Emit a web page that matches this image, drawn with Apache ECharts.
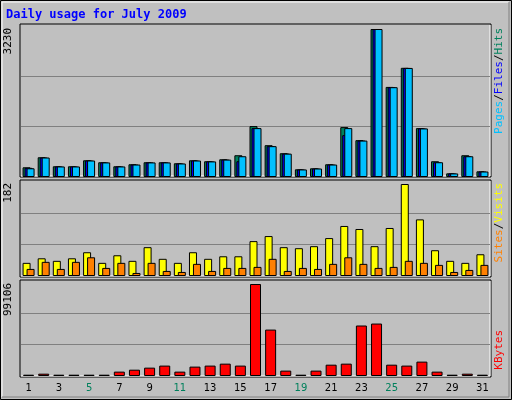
<!DOCTYPE html>
<html><head><meta charset="utf-8">
<script src="https://cdn.jsdelivr.net/npm/echarts@6/dist/echarts.min.js"></script>
<style>html,body{margin:0;padding:0;background:#c0c0c0}#c{width:512px;height:400px}</style>
</head><body><div id="c"></div>
<script>
const days = ['1','2','3','4','5','6','7','8','9','10','11','12','13','14','15','16','17','18','19','20','21','22','23','24','25','26','27','28','29','30','31'];
const weekends = ['4','5','11','12','18','19','25','26'];
const hits  = [212,431,234,234,365,322,234,278,322,322,300,365,344,387,475,1111,694,519,168,190,278,1089,804,3230,1966,2383,1067,344,80,475,124];
const files = [200,425,230,230,360,318,230,272,318,318,295,360,340,380,344,1067,673,510,165,185,272,914,795,3230,1960,2380,1060,322,78,453,120];
const pages = [190,425,230,230,360,318,230,272,318,318,295,360,340,380,453,1067,673,510,165,185,272,1067,795,3230,1960,2380,1060,322,78,453,120];
const visits = [26,35,30,35,47,26,41,30,57,34,26,47,34,39,39,69,79,57,55,59,75,99,93,59,95,182,112,51,30,26,43];
const sites  = [14,28,14,28,37,16,26,6,26,10,8,24,10,16,16,18,34,10,16,14,24,37,24,16,18,30,26,22,8,12,22];
const kbytes = [1400,2500,1400,1400,1400,1400,4700,6800,9000,11200,4700,10100,11200,13300,11200,99106,50000,5800,1400,5800,12200,13300,54400,56500,12200,11200,15500,4700,1400,2500,1400];
const maxLabels = ['3230','182','99106'];
const maxVals = [3230,182,99106];

const F = 'DejaVu Sans Mono';
const grids = [
  {left:21,right:22,top:29,bottom:223},
  {left:21,right:22,top:184,bottom:124},
  {left:21,right:22,top:284,bottom:24}
];
function xa(i){return {type:'category',gridIndex:i,data:days,axisLine:{show:false},axisTick:{show:false},
  axisLabel:{show:i===2,fontFamily:'DejaVu Sans',fontSize:10,color:(v)=>weekends.includes(v)?'#00805c':'#000',margin:7}};}
function ya(i){return {type:'value',gridIndex:i,min:0,max:maxVals[i],interval:maxVals[i]*0.34,
  axisLabel:{show:false},axisLine:{show:false},axisTick:{show:false},
  splitLine:{show:true,showMinLine:false,showMaxLine:false,lineStyle:{color:'#808080',width:1}}};}
const bs = {borderColor:'#000',borderWidth:1};
function bar(name,data,i,color,w,gap){return {type:'bar',name,data,xAxisIndex:i,yAxisIndex:i,barWidth:w,barGap:gap,
  itemStyle:Object.assign({color},bs),animation:false,silent:true};}

function panel(y,h){return [
  {type:'rect',shape:{x:20,y:y,width:471,height:h},style:{fill:'#c0c0c0',stroke:'#000',lineWidth:1},z:-10},
  {type:'polyline',shape:{points:[[21,y+h-1],[490,y+h-1],[490,y+1]]},style:{stroke:'#fff',lineWidth:1,fill:null},z:-9}
];}
function rot(text,x,y,rich){return {type:'text',x,y,rotation:Math.PI/2,style:{text,rich,font:'11px '+F,align:'right',verticalAlign:'middle'}};}

const chart = echarts.init(document.getElementById('c'),null,{renderer:'canvas'});
chart.setOption({
  backgroundColor:'#c0c0c0',
  animation:false,
  grid:grids,
  xAxis:[xa(0),xa(1),xa(2)],
  yAxis:[ya(0),ya(1),ya(2)],
  series:[
    bar('Hits',hits,0,'#00805c',8,'-75%'),
    bar('Files',files,0,'#0000ff',8,'-75%'),
    bar('Pages',pages,0,'#00c0ff',8,'-75%'),
    bar('Visits',visits,1,'#ffff00',8,'-50%'),
    bar('Sites',sites,1,'#ff8000',8,'-50%'),
    bar('KBytes',kbytes,2,'#ff0000',11,'0%')
  ],
  graphic:[
    {type:'rect',shape:{x:0.5,y:0.5,width:511,height:399},style:{fill:null,stroke:'#000',lineWidth:1},z:-20},
    {type:'polyline',shape:{points:[[2,397],[2,2],[509,2]]},style:{stroke:'#fff',lineWidth:1,fill:null},z:-20},
    {type:'polyline',shape:{points:[[2,397],[509,397],[509,2]]},style:{stroke:'#808080',lineWidth:1,fill:null},z:-20},
    ...panel(24,153),...panel(180,97),...panel(280,97),
    {type:'text',x:6,y:9,style:{text:'Daily usage for July 2009',font:'bold 12px '+F,fill:'#0000ff'}},
    {type:'text',x:8,y:28,rotation:Math.PI/2,style:{text:maxLabels[0],font:'11px '+F,fill:'#000',align:'right',verticalAlign:'middle'}},
    {type:'text',x:8,y:183,rotation:Math.PI/2,style:{text:maxLabels[1],font:'11px '+F,fill:'#000',align:'right',verticalAlign:'middle'}},
    {type:'text',x:8,y:283,rotation:Math.PI/2,style:{text:maxLabels[2],font:'11px '+F,fill:'#000',align:'right',verticalAlign:'middle'}},
    {type:'text',x:499,y:28,rotation:Math.PI/2,style:{text:'{p|Pages}{s|/}{f|Files}{s|/}{h|Hits}',font:'11px '+F,align:'right',verticalAlign:'middle',
      rich:{p:{fill:'#00c0ff',font:'11px '+F},f:{fill:'#0000ff',font:'11px '+F},h:{fill:'#00805c',font:'11px '+F},s:{fill:'#000',font:'11px '+F}}}},
    {type:'text',x:499,y:183,rotation:Math.PI/2,style:{text:'{a|Sites}{s|/}{b|Visits}',font:'11px '+F,align:'right',verticalAlign:'middle',
      rich:{a:{fill:'#ff8000',font:'11px '+F},b:{fill:'#ffff00',font:'11px '+F},s:{fill:'#000',font:'11px '+F}}}},
    {type:'text',x:499,y:330,rotation:Math.PI/2,style:{text:'KBytes',fill:'#ff0000',font:'11px '+F,align:'right',verticalAlign:'middle'}}
  ]
});
</script></body></html>
